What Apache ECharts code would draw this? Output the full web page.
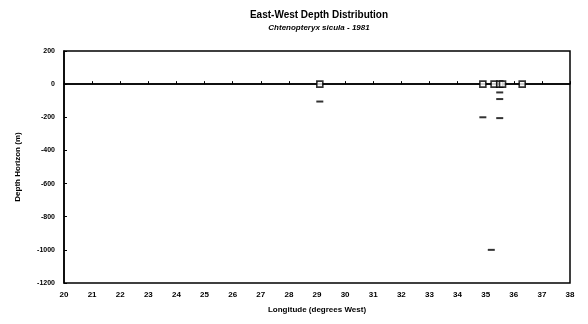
<!DOCTYPE html>
<html>
<head>
<meta charset="utf-8">
<script src="https://cdn.jsdelivr.net/npm/echarts@6/dist/echarts.min.js"></script>
<style>
  html, body { margin: 0; padding: 0; background: #fff; }
  #chart { width: 588px; height: 324px; }
</style>
</head>
<body>
<div id="chart"></div>
<script>
// surface catches (depth 0), open squares
const surfaceLon = [29.1, 34.9, 35.3, 35.5, 35.6, 36.3]
const surfaceDepth = [0, 0, 0, 0, 0, 0]
// deeper catches, dashes
const deepLon = [29.1, 34.9, 35.5, 35.5, 35.5, 35.2]
const deepDepth = [-105, -200, -50, -90, -205, -1000]

const font = 'Liberation Sans, Arial, sans-serif'

const chart = echarts.init(document.getElementById('chart'))
const option = {
  animation: false,
  title: {
    text: 'East-West Depth Distribution',
    subtext: 'Chtenopteryx sicula - 1981',
    left: 314,
    textAlign: 'center',
    top: 5,
    itemGap: 4,
    textStyle: { fontFamily: font, fontSize: 10, fontWeight: 'bold', color: '#000' },
    subtextStyle: { fontFamily: font, fontSize: 8, fontWeight: 'bold', fontStyle: 'italic', color: '#000' }
  },
  grid: {
    left: 64,
    right: 18,
    top: 51,
    bottom: 41,
    show: true,
    borderColor: '#000',
    borderWidth: 1.5
  },
  xAxis: {
    type: 'value',
    min: 20,
    max: 38,
    interval: 1,
    name: 'Longitude (degrees West)',
    nameLocation: 'middle',
    nameGap: 23,
    nameTextStyle: { fontFamily: font, fontSize: 8, fontWeight: 'bold', color: '#000' },
    axisLine: { lineStyle: { color: '#000', width: 1.5 } },
    axisTick: { inside: true, length: 3, lineStyle: { color: '#000' } },
    axisLabel: { fontFamily: font, fontSize: 8, fontWeight: 'bold', color: '#000', margin: 8 },
    splitLine: { show: false }
  },
  yAxis: {
    type: 'value',
    min: -1200,
    max: 200,
    interval: 200,
    name: 'Depth Horizon (m)',
    nameLocation: 'middle',
    nameGap: 42,
    nameTextStyle: { fontFamily: font, fontSize: 8, fontWeight: 'bold', color: '#000' },
    axisLine: { lineStyle: { color: '#000', width: 1.5 } },
    axisTick: { inside: true, length: 3, lineStyle: { color: '#000' } },
    axisLabel: {
      fontFamily: font, fontSize: 7, fontWeight: 'bold', color: '#000', margin: 9,
      formatter: v => String(v)
    },
    splitLine: { show: false }
  },
  series: [
    {
      name: 'surface',
      type: 'scatter',
      data: surfaceLon.map((x, i) => [x, surfaceDepth[i]]),
      symbol: 'rect',
      symbolSize: 6,
      itemStyle: { color: '#fff', borderColor: '#000', borderWidth: 1.6 },
      z: 5,
      markLine: {
        silent: true,
        symbol: 'none',
        label: { show: false },
        lineStyle: { color: '#000', width: 1.5, type: 'solid' },
        data: [{ yAxis: 0 }]
      }
    },
    {
      name: 'deep',
      type: 'scatter',
      data: deepLon.map((x, i) => [x, deepDepth[i]]),
      symbol: 'rect',
      symbolSize: [7, 2],
      itemStyle: { color: '#000' }
    }
  ]
}
chart.setOption(option)
</script>
</body>
</html>
